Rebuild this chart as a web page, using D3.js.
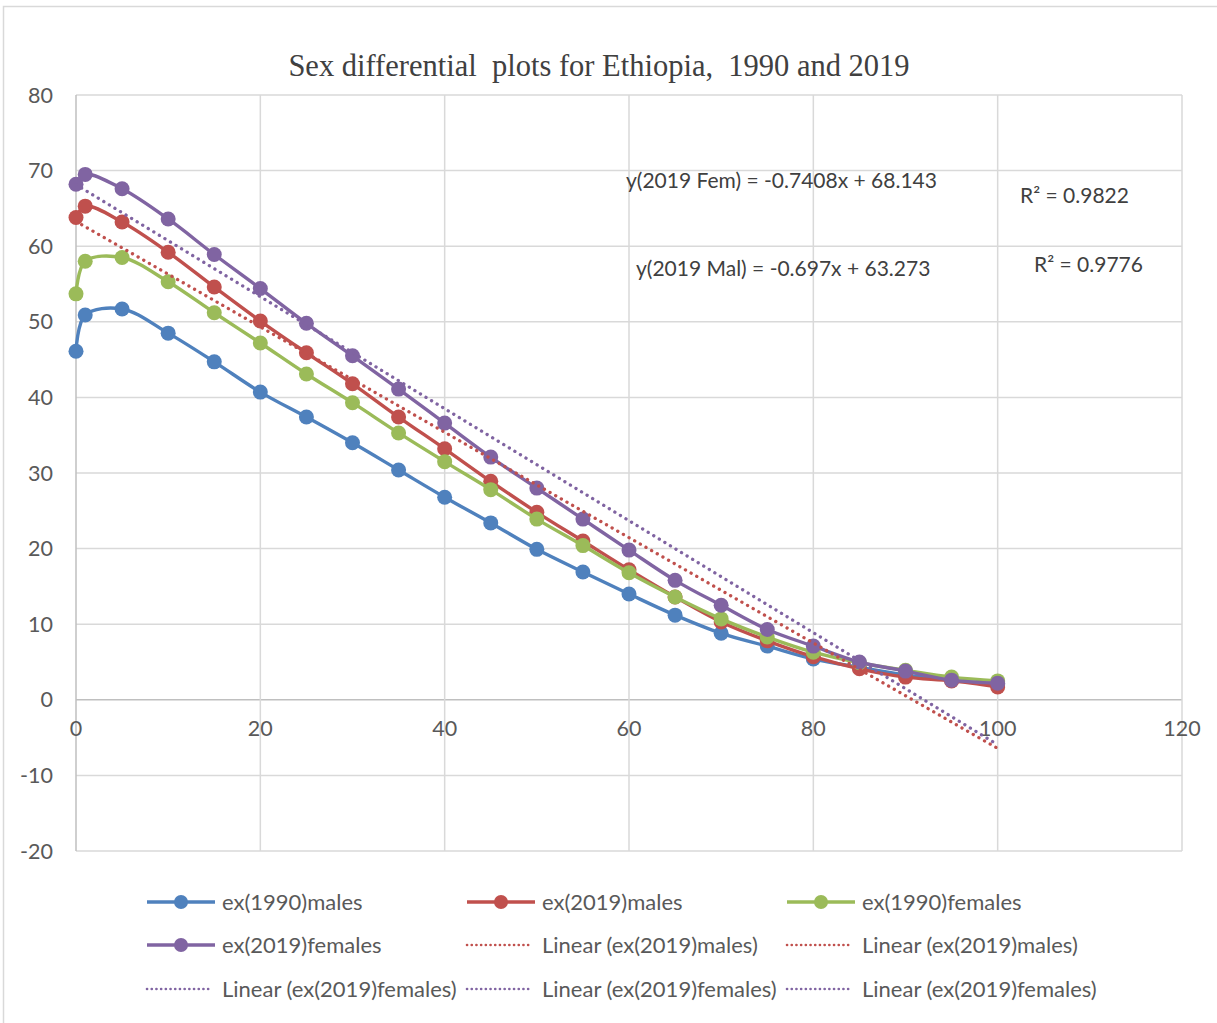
<!DOCTYPE html>
<html>
<head>
<meta charset="utf-8">
<script src="https://cdn.jsdelivr.net/npm/d3@7"></script>
<style>
  html, body { margin: 0; padding: 0; background: #fff; }
  svg { display: block; }
  text { white-space: pre; }
</style>
</head>
<body>
<svg id="chart" width="1217" height="1023"></svg>
<script>
// ---- data ----
const ages = [0, 1, 5, 10, 15, 20, 25, 30, 35, 40, 45, 50, 55, 60, 65, 70, 75, 80, 85, 90, 95, 100];
const males1990   = [46.1, 50.9, 51.7, 48.5, 44.7, 40.7, 37.4, 34.0, 30.4, 26.8, 23.4, 19.9, 16.9, 14.0, 11.2, 8.8, 7.1, 5.4, 4.3, 3.3, 2.6, 2.0];
const males2019   = [63.8, 65.3, 63.2, 59.2, 54.6, 50.1, 45.9, 41.8, 37.4, 33.2, 28.9, 24.8, 21.0, 17.2, 13.6, 10.3, 7.8, 5.7, 4.1, 3.0, 2.5, 1.7];
const females1990 = [53.7, 58.0, 58.5, 55.3, 51.2, 47.2, 43.1, 39.3, 35.3, 31.5, 27.8, 23.9, 20.4, 16.8, 13.6, 10.7, 8.3, 6.3, 4.9, 3.9, 3.0, 2.5];
const females2019 = [68.2, 69.5, 67.6, 63.6, 58.9, 54.4, 49.8, 45.5, 41.1, 36.6, 32.1, 28.0, 23.9, 19.8, 15.8, 12.5, 9.3, 7.1, 5.0, 3.8, 2.6, 2.2];
const seriesNames = ["ex(1990)males", "ex(2019)males", "ex(1990)females", "ex(2019)females"];
const seriesColors = ["#4F81BD", "#C0504D", "#9BBB59", "#8064A2"];
const trendNames = ["Linear (ex(2019)males)", "Linear (ex(2019)females)"];
const trendSlopes = [-0.697, -0.7408];
const trendIntercepts = [63.273, 68.143];
const trendColors = ["#C0504D", "#8064A2"];
const xTicks = [0, 20, 40, 60, 80, 100, 120];
const yTicks = [-20, -10, 0, 10, 20, 30, 40, 50, 60, 70, 80];
const title = "Sex differential  plots for Ethiopia,  1990 and 2019";
const annotations = ["y(2019 Fem) = -0.7408x + 68.143", "R\u00B2 = 0.9822", "y(2019 Mal) = -0.697x + 63.273", "R\u00B2 = 0.9776"];
const legendItems = [
  {label: "ex(1990)males", type: "series", s: 0},
  {label: "ex(2019)males", type: "series", s: 1},
  {label: "ex(1990)females", type: "series", s: 2},
  {label: "ex(2019)females", type: "series", s: 3},
  {label: "Linear (ex(2019)males)", type: "trend", s: 0},
  {label: "Linear (ex(2019)males)", type: "trend", s: 0},
  {label: "Linear (ex(2019)females)", type: "trend", s: 1},
  {label: "Linear (ex(2019)females)", type: "trend", s: 1},
  {label: "Linear (ex(2019)females)", type: "trend", s: 1}
];
const seriesValues = [males1990, males2019, females1990, females2019];

// ---- layout ----
const svg = d3.select("#chart");
const x = d3.scaleLinear().domain([0, 120]).range([76, 1182]);
const y = d3.scaleLinear().domain([-20, 80]).range([851, 95]);
const FONT = "Lato, 'Open Sans', sans-serif";

// outer border
svg.append("rect").attr("x", 3.5).attr("y", 6.5).attr("width", 1230).attr("height", 1040)
  .attr("fill", "#fff").attr("stroke", "#d9d9d9").attr("stroke-width", 1.5);

// gridlines
const grid = svg.append("g");
grid.selectAll("line.h").data(yTicks).join("line")
  .attr("x1", x(0)).attr("x2", x(120))
  .attr("y1", d => y(d)).attr("y2", d => y(d))
  .attr("stroke", d => d === 0 ? "#bfbfbf" : "#d9d9d9").attr("stroke-width", 1.5);
grid.selectAll("line.v").data(xTicks.filter(d => d > 0)).join("line")
  .attr("x1", d => x(d)).attr("x2", d => x(d))
  .attr("y1", y(80)).attr("y2", y(-20))
  .attr("stroke", "#d9d9d9").attr("stroke-width", 1.5);
// vertical axis line
svg.append("line").attr("x1", x(0)).attr("x2", x(0)).attr("y1", y(80)).attr("y2", y(-20))
  .attr("stroke", "#bfbfbf").attr("stroke-width", 1.5);

// tick labels
svg.append("g").selectAll("text").data(yTicks).join("text")
  .attr("x", 53).attr("y", d => y(d)).attr("dy", "0.35em")
  .attr("text-anchor", "end").attr("font-family", FONT).attr("font-size", 21.5)
  .attr("fill", "#595959").text(d => d);
svg.append("g").selectAll("text").data(xTicks).join("text")
  .attr("x", d => x(d)).attr("y", y(0) + 29).attr("dy", "0.35em")
  .attr("text-anchor", "middle").attr("font-family", FONT).attr("font-size", 21.5)
  .attr("fill", "#595959").text(d => d);

// series lines
const line = d3.line().x(d => x(d[0])).y(d => y(d[1])).curve(d3.curveCatmullRom.alpha(0.5));
seriesValues.forEach((vals, i) => {
  const pts = ages.map((a, j) => [a, vals[j]]);
  const g = svg.append("g");
  g.append("path").datum(pts).attr("d", line).attr("fill", "none")
    .attr("stroke", seriesColors[i]).attr("stroke-width", 3.4);
  g.selectAll("circle").data(pts).join("circle")
    .attr("cx", d => x(d[0])).attr("cy", d => y(d[1])).attr("r", 7.5)
    .attr("fill", seriesColors[i]);
});

// trendlines
const xExt = d3.extent(ages);
trendSlopes.forEach((m, i) => {
  const pts = xExt.map(a => [a, trendIntercepts[i] + m * a]);
  svg.append("path").datum(pts).attr("d", d3.line().x(d => x(d[0])).y(d => y(d[1])))
    .attr("fill", "none").attr("stroke", trendColors[i]).attr("stroke-width", 3.3)
    .attr("stroke-linecap", "round").attr("stroke-dasharray", "0.1 6.4");
});

// title
svg.append("text").attr("x", 599).attr("y", 76).attr("text-anchor", "middle")
  .attr("font-family", "'Liberation Serif', 'Times New Roman', serif").attr("font-size", 30.5)
  .attr("fill", "#404040").text(title);

// annotations
const annPos = [[626, 188], [1020, 203], [636, 276], [1034, 272]];
svg.append("g").selectAll("text").data(annotations).join("text")
  .attr("x", (d, i) => annPos[i][0]).attr("y", (d, i) => annPos[i][1])
  .attr("font-family", FONT).attr("font-size", 21).attr("fill", "#404040").text(d => d);

// legend
const colX = [147, 467, 787];
const rowY = [902, 945, 989];
const leg = svg.append("g");
legendItems.forEach((it, k) => {
  const cx = colX[k % 3], cy = rowY[Math.floor(k / 3)];
  const g = leg.append("g");
  if (it.type === "series") {
    g.append("line").attr("x1", cx).attr("x2", cx + 68).attr("y1", cy).attr("y2", cy)
      .attr("stroke", seriesColors[it.s]).attr("stroke-width", 3.4);
    g.append("circle").attr("cx", cx + 34).attr("cy", cy).attr("r", 7).attr("fill", seriesColors[it.s]);
  } else {
    g.append("line").attr("x1", cx).attr("x2", cx + 64).attr("y1", cy).attr("y2", cy)
      .attr("stroke", trendColors[it.s]).attr("stroke-width", 2.6)
      .attr("stroke-linecap", "round").attr("stroke-dasharray", "0.1 4.6");
  }
  g.append("text").attr("x", cx + 75).attr("y", cy).attr("dy", "0.35em")
    .attr("font-family", FONT).attr("font-size", 22).attr("fill", "#595959").text(it.label);
});
</script>
</body>
</html>
